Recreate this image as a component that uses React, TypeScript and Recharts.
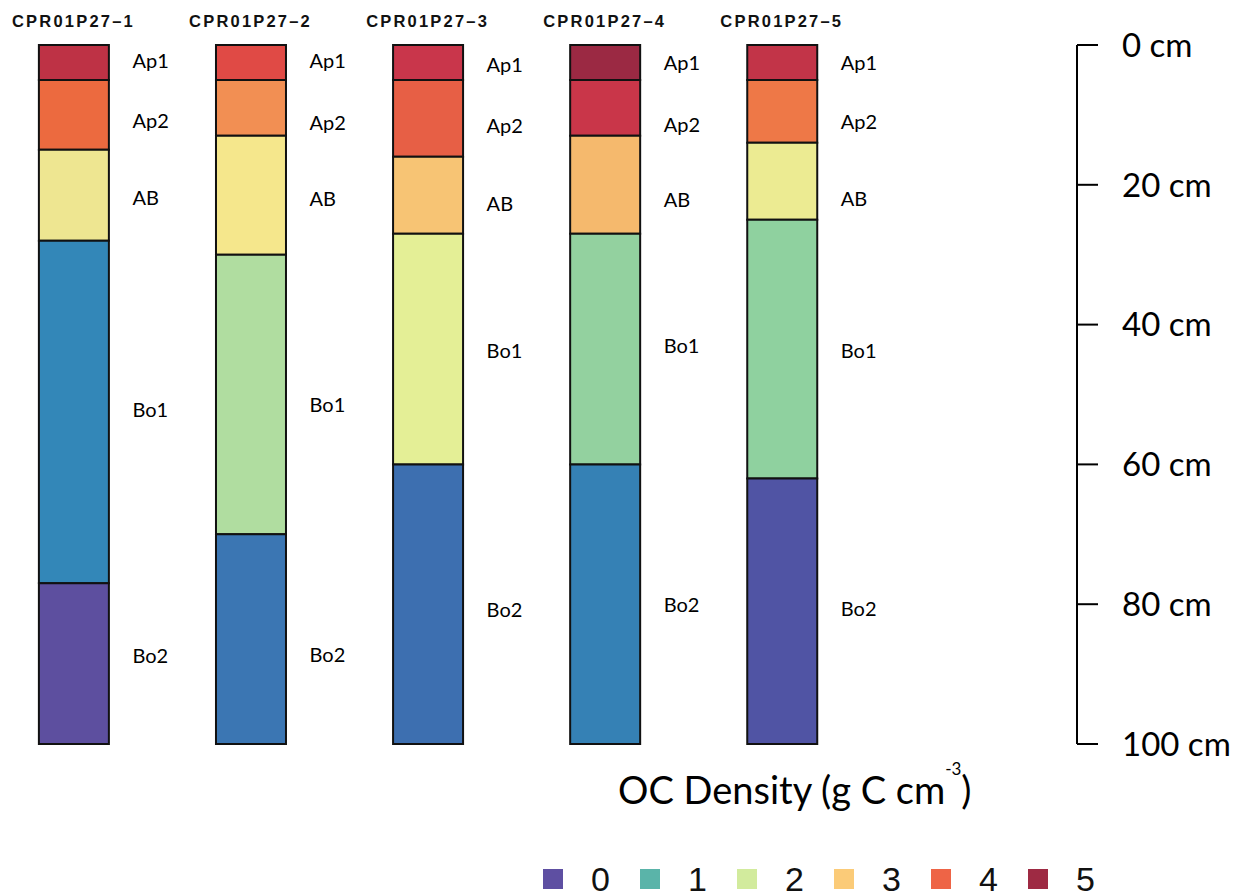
import React from 'react';
import { ComposedChart, Bar, Scatter, XAxis, YAxis, Cell, Legend } from 'recharts';

// soil profiles and their horizons
const profiles = ['CPR01P27–1', 'CPR01P27–2', 'CPR01P27–3', 'CPR01P27–4', 'CPR01P27–5'];
const horizons = ['Ap1', 'Ap2', 'AB', 'Bo1', 'Bo2'];

// lower boundary of each horizon (cm)
const lowerDepth1 = [5, 15, 28, 77, 100];
const lowerDepth2 = [5, 13, 30, 70, 100];
const lowerDepth3 = [5, 16, 27, 60, 100];
const lowerDepth4 = [5, 13, 27, 60, 100];
const lowerDepth5 = [5, 14, 25, 62, 100];
const lowerDepths = [lowerDepth1, lowerDepth2, lowerDepth3, lowerDepth4, lowerDepth5];

// depth (cm) where each horizon name is written
const labelDepth1 = [2.1, 10.7, 21.7, 52.1, 87.3];
const labelDepth2 = [2.1, 11.0, 21.9, 51.4, 87.1];
const labelDepth3 = [2.7, 11.4, 22.6, 43.7, 80.7];
const labelDepth4 = [2.4, 11.3, 22.1, 42.9, 79.9];
const labelDepth5 = [2.4, 10.9, 21.9, 43.7, 80.6];
const labelDepths = [labelDepth1, labelDepth2, labelDepth3, labelDepth4, labelDepth5];

const depthTicks = [0, 20, 40, 60, 80, 100];
const densityClasses = [0, 1, 2, 3, 4, 5];

// spectral colour ramp for OC density classes
const classColors = ['#5e4fa2', '#5ab4a9', '#d2eb9d', '#fbcb78', '#ee6446', '#9e2a43'];

// horizon fills per profile (OC density shading)
const horizonFills = [
  ['#be3245', '#ec6a3f', '#eee691', '#3387b8', '#5d4f9f'],
  ['#e04a45', '#f28f53', '#f5e78c', '#b0dda0', '#3b76b3'],
  ['#c9364b', '#e75f45', '#f7c474', '#e4ef96', '#3d6fb0'],
  ['#9b2943', '#c93649', '#f5b96d', '#93d19f', '#3581b5'],
  ['#c23448', '#ee7847', '#eceb92', '#8fd19f', '#5054a4'],
];

const rows = profiles.map((name, i) => {
  const row: Record<string, number | string> = { pos: i, name };
  lowerDepths[i].forEach((d, j) => {
    row[horizons[j]] = d - (j === 0 ? 0 : lowerDepths[i][j - 1]);
  });
  return row;
});

const labelPoints = profiles.flatMap((_, i) =>
  horizons.map((h, j) => ({ pos: i, depth: labelDepths[i][j], name: h }))
);

const HorizonLabel = (props: any) => {
  const { cx, cy, payload } = props;
  return (
    <text x={cx + 59} y={cy} dominantBaseline="central" fontFamily="Lato" fontSize={20} fill="#000">
      {payload.name}
    </text>
  );
};

const DensityLegend = () => (
  <div style={{ position: 'relative', width: 600, height: 134, fontFamily: 'Lato' }}>
    <div
      style={{
        position: 'absolute',
        left: 78,
        top: 10,
        fontSize: 38,
        lineHeight: '39px',
        whiteSpace: 'nowrap',
        color: '#000',
      }}
    >
      OC Density (g C cm
      <span style={{ fontSize: 17, position: 'relative', top: -29 }}>-3</span>)
    </div>
    <div style={{ position: 'absolute', left: 3, top: 106, display: 'flex', alignItems: 'center' }}>
      {densityClasses.map((c, i) => (
        <div key={c} style={{ display: 'flex', alignItems: 'center', width: 97, height: 26 }}>
          <span style={{ width: 20, height: 20, background: classColors[i], display: 'inline-block' }} />
          <span
            style={{
              marginLeft: 28,
              fontFamily: 'Liberation Sans',
              fontSize: 34,
              lineHeight: '26px',
              color: '#111',
            }}
          >
            {c}
          </span>
        </div>
      ))}
    </div>
  </div>
);

export default function App() {
  return (
    <div style={{ position: 'absolute', left: 0, top: 0, background: '#fff' }}>
      <ComposedChart width={1240} height={894} data={rows} margin={{ top: 0, right: 0, bottom: 150, left: 0 }}>
        <XAxis
          type="number"
          dataKey="pos"
          orientation="top"
          domain={[-0.4147, 5.667]}
          ticks={[0, 1, 2, 3, 4]}
          interval={0}
          tickFormatter={(i: number) => profiles[i]}
          axisLine={false}
          tickLine={false}
          tickSize={0}
          tickMargin={18}
          height={45}
          tick={{ fontFamily: 'Liberation Sans', fontWeight: 'bold', fontSize: 16.5, fill: '#111', letterSpacing: 2.2 }}
        />
        <YAxis
          orientation="right"
          type="number"
          domain={[0, 100]}
          reversed
          ticks={depthTicks}
          interval={0}
          tickFormatter={(v: number) => `${v} cm`}
          width={163}
          axisLine={{ stroke: '#000', strokeWidth: 2 }}
          tickLine={{ stroke: '#000', strokeWidth: 2 }}
          tickSize={21}
          tickMargin={24}
          tick={{ fontFamily: 'Lato', fontSize: 33, fill: '#000' }}
        />
        <Legend
          layout="horizontal"
          verticalAlign="middle"
          align="center"
          wrapperStyle={{ left: 540, top: 760, width: 600, height: 134 }}
          content={() => <DensityLegend />}
        />
        {horizons.map((h, j) => (
          <Bar
            key={h}
            dataKey={h}
            stackId="profile"
            barSize={70}
            stroke="#111"
            strokeWidth={2}
            isAnimationActive={false}
          >
            {rows.map((r, i) => (
              <Cell key={String(r.name)} fill={horizonFills[i][j]} />
            ))}
          </Bar>
        ))}
        <Scatter
          data={labelPoints}
          dataKey="depth"
          shape={HorizonLabel}
          legendType="none"
          isAnimationActive={false}
        />
      </ComposedChart>
    </div>
  );
}
